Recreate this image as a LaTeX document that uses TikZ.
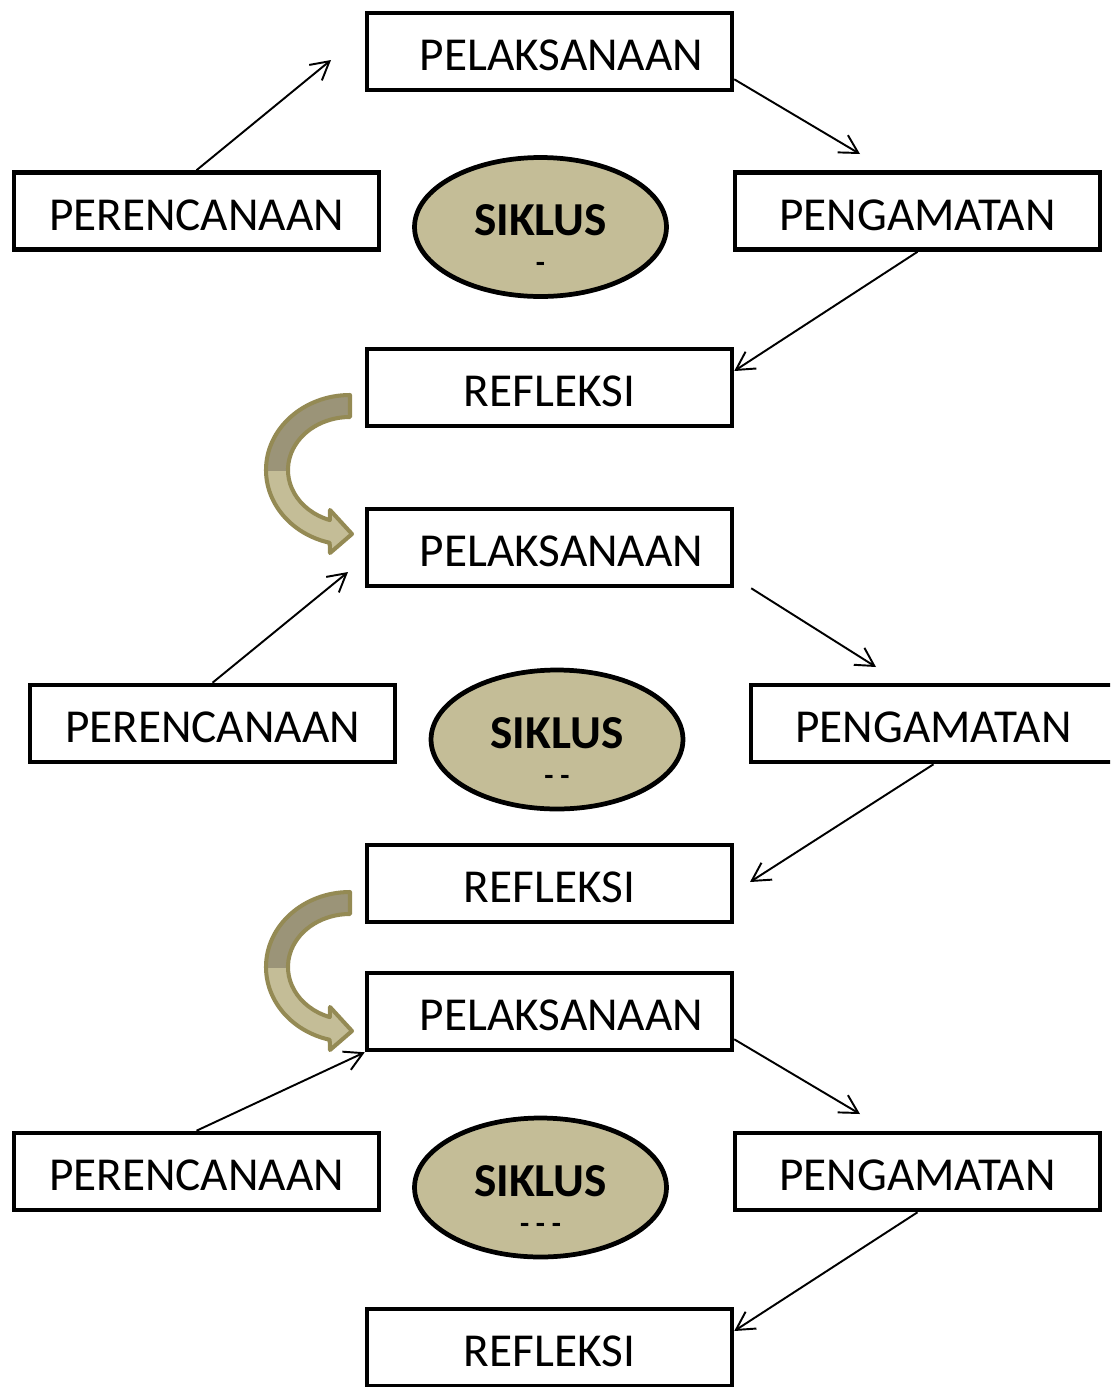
\documentclass[tikz,border=0pt]{standalone}
\usepackage{fontspec}
\setmainfont{Carlito}
\usetikzlibrary{arrows.meta,positioning,shapes.geometric}
\definecolor{skink}{HTML}{000000}
\definecolor{sktan}{HTML}{C4BD97}
\definecolor{skdark}{HTML}{9B9478}
\definecolor{skolive}{HTML}{948A54}
\tikzset{
  sk box/.style={draw=skink, line width=2.6pt, fill=white, minimum width=7.3cm,
    minimum height=1.54cm, inner sep=0pt, text height=21.8pt, text depth=0pt,
    font=\fontsize{26.9}{30}\selectfont},
  sk cycle/.style={ellipse, draw=skink, line width=2.7pt, fill=sktan,
    minimum width=5.04cm, minimum height=2.78cm, inner sep=0pt, align=center,
    font=\fontsize{26.9}{30}\selectfont\bfseries},
  sk arrow/.style={-{Straight Barb[length=3.6mm,width=4mm]}, line width=1.1pt,
    draw=skink},
  sk bend/.style={draw=skolive, line width=2.3pt, line join=round}
}
\newcommand{\skbend}{(350,-395) arc[start angle=90, end angle=256, x radius=84, y radius=75]
  -- (330,-553) -- (352,-534) -- (330,-510) -- (329.8,-520.1)
  arc[start angle=251, end angle=90, x radius=62, y radius=53] -- cycle}
\newcommand{\skdots}[1]{\rule{0pt}{31pt}SIKLUS\\[-9pt]{\fontsize{17}{17}\selectfont #1}}

\begin{document}
\begin{tikzpicture}[x=0.02cm, y=0.02cm]
  \useasboundingbox (0,0) rectangle (1110,-1387);
  \clip (0,0) rectangle (1110,-1387);
  % siklus 1
  \node[sk box] (pel1) at (549.5,-51.5) {\hspace*{0.48cm}PELAKSANAAN};
  \node[sk box] (per1) at (196.5,-211) {PERENCANAAN};
  \node[sk box] (peng1) at (917.5,-211) {PENGAMATAN};
  \node[sk box] (ref1) at (549.5,-387.5) {REFLEKSI};
  \node[sk cycle] (sik1) at (540.5,-227) {\skdots{-}};
  % siklus 2
  \node[sk box] (pel2) at (549.5,-547.5) {\hspace*{0.48cm}PELAKSANAAN};
  \node[sk box] (per2) at (212.5,-723.5) {PERENCANAAN};
  \node[sk box] (peng2) at (933.5,-723.5) {PENGAMATAN};
  \node[sk box] (ref2) at (549.5,-883.5) {REFLEKSI};
  \node[sk cycle] (sik2) at (557,-739.5) {\skdots{- -}};
  % siklus 3
  \node[sk box] (pel3) at (549.5,-1011.5) {\hspace*{0.48cm}PELAKSANAAN};
  \node[sk box] (per3) at (196.5,-1171.5) {PERENCANAAN};
  \node[sk box] (peng3) at (917.5,-1171.5) {PENGAMATAN};
  \node[sk box] (ref3) at (549.5,-1347.5) {REFLEKSI};
  \node[sk cycle] (sik3) at (540.5,-1187.5) {\skdots{- - -}};

  \coordinate (a1) at (331,-60);
  \coordinate (b1) at (860,-154);
  \draw[sk arrow] (per1.north) -- (a1);
  \draw[sk arrow] ([yshift=0.26cm]pel1.south east) -- (b1);
  \draw[sk arrow] (peng1.south) -- ([yshift=0.33cm]ref1.east);

  \coordinate (a2) at (348,-572);
  \coordinate (b2) at (876,-667);
  \coordinate (c2) at (750,-882);
  \draw[sk arrow] (per2.north) -- (a2);
  \draw[sk arrow] ([xshift=0.34cm]pel2.south east) -- (b2);
  \draw[sk arrow] (peng2.south) -- (c2);

  \coordinate (b3) at (860,-1114);
  \draw[sk arrow] (per3.north) -- (pel3.south west);
  \draw[sk arrow] ([yshift=0.26cm]pel3.south east) -- (b3);
  \draw[sk arrow] (peng3.south) -- ([yshift=0.33cm]ref3.east);

  % panah lengkung antar siklus
  \foreach \d in {0,-497} {
    \begin{scope}[shift={(0,\d)}]
      \fill[sktan] \skbend;
      \begin{scope}
        \clip (240,-380) rectangle (360,-470);
        \fill[skdark] \skbend;
      \end{scope}
      \draw[sk bend] \skbend;
    \end{scope}
  }
\end{tikzpicture}
\end{document}
